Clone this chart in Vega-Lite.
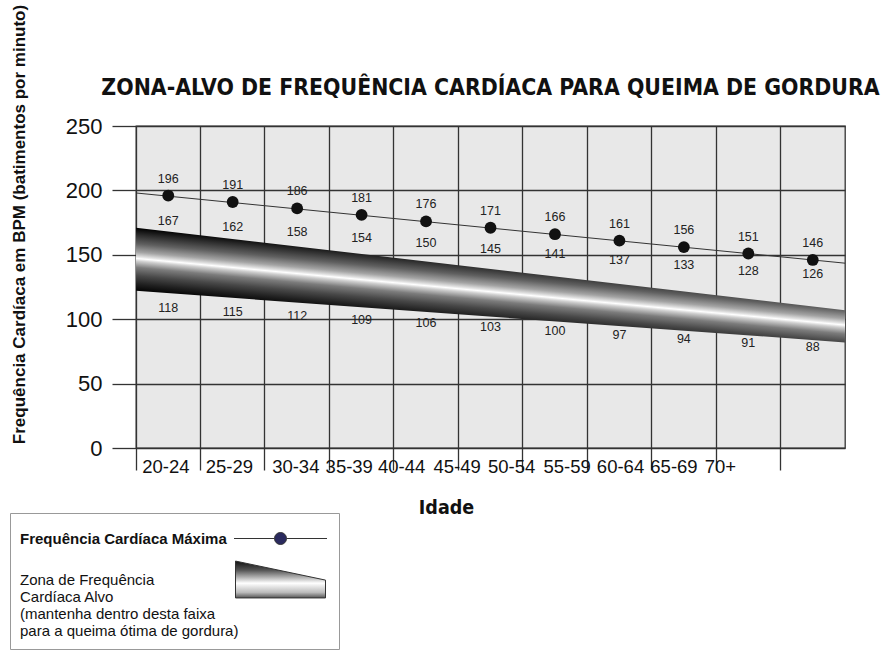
{
  "$schema": "https://vega.github.io/schema/vega-lite/v6.json",
  "width": 709,
  "height": 322,
  "autosize": "none",
  "padding": {"left": 136, "top": 126, "right": 39, "bottom": 205},
  "background": "white",
  "title": {
    "text": "ZONA-ALVO DE FREQUÊNCIA CARDÍACA PARA QUEIMA DE GORDURA",
    "font": "DejaVu Sans Condensed, Liberation Sans",
    "fontSize": 22.8,
    "fontWeight": "bold",
    "color": "#111111",
    "offset": 0,
    "dy": 95,
    "anchor": "middle",
    "frame": "group"
  },
  "config": {
    "font": "Liberation Sans",
    "view": {"fill": "#e8e8e8", "stroke": "#333333", "strokeWidth": 1.3}
  },
  "datasets": {
    "idades": [
      {"idade": "20-24", "max": 196, "sup": 167, "inf": 118},
      {"idade": "25-29", "max": 191, "sup": 162, "inf": 115},
      {"idade": "30-34", "max": 186, "sup": 158, "inf": 112},
      {"idade": "35-39", "max": 181, "sup": 154, "inf": 109},
      {"idade": "40-44", "max": 176, "sup": 150, "inf": 106},
      {"idade": "45-49", "max": 171, "sup": 145, "inf": 103},
      {"idade": "50-54", "max": 166, "sup": 141, "inf": 100},
      {"idade": "55-59", "max": 161, "sup": 137, "inf": 97},
      {"idade": "60-64", "max": 156, "sup": 133, "inf": 94},
      {"idade": "65-69", "max": 151, "sup": 128, "inf": 91},
      {"idade": "70+", "max": 146, "sup": 126, "inf": 88}
    ],
    "faixa": [
      {"pos": 0, "topo": 171, "base": 122},
      {"pos": 11, "topo": 107, "base": 82}
    ],
    "linha": [
      {"pos": 0, "fc": 198},
      {"pos": 11, "fc": 143.5}
    ]
  },
  "layer": [
    {
      "layer": [
        {
          "data": {"name": "faixa"},
          "mark": {
            "type": "area",
            "color": {
              "gradient": "linear",
              "x1": 0, "y1": 0, "x2": -0.242, "y2": 0.416,
              "stops": [
                {"offset": 0, "color": "#000000"},
                {"offset": 0.1, "color": "#282828"},
                {"offset": 0.25, "color": "#606060"},
                {"offset": 0.38, "color": "#a4a4a4"},
                {"offset": 0.45, "color": "#e0e0e0"},
                {"offset": 0.48, "color": "#ffffff"},
                {"offset": 0.52, "color": "#d0d0d0"},
                {"offset": 0.62, "color": "#7c7c7c"},
                {"offset": 0.75, "color": "#484848"},
                {"offset": 0.88, "color": "#202020"},
                {"offset": 1, "color": "#000000"}
              ]
            }
          },
          "encoding": {
            "x": {"field": "pos", "type": "quantitative", "scale": {"domain": [0, 11], "nice": false, "zero": false}, "axis": null},
            "y": {
              "field": "topo", "type": "quantitative",
              "scale": {"domain": [0, 250], "nice": false},
              "axis": {
                "values": [0, 50, 100, 150, 200, 250],
                "title": "Frequência Cardíaca em BPM (batimentos por minuto)",
                "titleFontSize": 17,
                "titleFontWeight": "bold",
                "titleColor": "#111111",
                "titleAngle": -90,
                "titleX": -117,
                "titleY": 98,
                "titleAlign": "center",
                "titleBaseline": "middle",
                "titleLimit": 600,
                "labelFontSize": 22,
                "labelColor": "#111111",
                "labelPadding": 10,
                "tickSize": 24,
                "tickColor": "#333333",
                "tickWidth": 1.3,
                "grid": true,
                "gridColor": "#333333",
                "gridWidth": 1.3,
                "gridOpacity": 1,
                "domain": false
              }
            },
            "y2": {"field": "base"}
          }
        },
        {
          "data": {"name": "linha"},
          "mark": {"type": "line", "strokeWidth": 1},
          "encoding": {
            "x": {"field": "pos", "type": "quantitative", "scale": {"domain": [0, 11], "nice": false, "zero": false}, "axis": null},
            "y": {"field": "fc", "type": "quantitative"},
            "stroke": {
              "datum": "Frequência Cardíaca Máxima",
              "scale": {
                "domain": ["Frequência Cardíaca Máxima", "Zona de Frequência|Cardíaca Alvo|(mantenha dentro desta faixa|para a queima ótima de gordura)"],
                "range": ["#333333", "#333333"]
              },
              "legend": {
                "orient": "none",
                "legendX": -126,
                "legendY": 387,
                "title": null,
                "direction": "vertical",
                "padding": 10,
                "strokeColor": "#999999",
                "fillColor": "#ffffff",
                "labelExpr": "split(datum.label, '|')",
                "labelLimit": 400,
                "labelFontSize": 15,
                "labelFontWeight": {"expr": "indexof(datum.value, '|') < 0 ? 'bold' : 'normal'"},
                "labelColor": "#111111",
                "labelOffset": -276,
                "symbolOffset": 245,
                "symbolSize": 900,
                "symbolType": {"expr": "indexof(datum.value, '|') < 0 ? 'M-3.1,0H-0.4M0.4,0H3.1M-0.4,0A0.4,0.4 0 1,1 0.4,0A0.4,0.4 0 1,1 -0.4,0Z' : 'M-3,-1.23L3,0.04L3,1.23L-3,1.23Z'"},
                "symbolFillColor": {"expr": "indexof(datum.value, '|') < 0 ? '#2a2a5e' : {gradient: 'linear', x1: 0, y1: 0, x2: 0, y2: 1, stops: [{offset: 0, color: '#111111'}, {offset: 0.25, color: '#555555'}, {offset: 0.6, color: '#ffffff'}, {offset: 0.85, color: '#bbbbbb'}, {offset: 1, color: '#555555'}]}"},
                "symbolStrokeWidth": 1,
                "rowPadding": 12
              }
            }
          }
        }
      ]
    },
    {
      "data": {"name": "idades"},
      "encoding": {
        "x": {
          "field": "idade", "type": "nominal", "sort": null,
          "scale": {"type": "band", "paddingInner": 0, "paddingOuter": 0},
          "axis": {
            "orient": "bottom",
            "bandPosition": 0,
            "title": "Idade",
            "titleFont": "DejaVu Sans Condensed, Liberation Sans",
            "titleFontSize": 19.5,
            "titleFontWeight": "bold",
            "titleColor": "#111111",
            "titleX": 310,
            "titleY": 59,
            "titleAlign": "center",
            "titleBaseline": "middle",
            "labelAngle": 0,
            "labelAlign": "left",
            "labelBaseline": "middle",
            "labelFontSize": 18.5,
            "labelColor": "#111111",
            "labelOffset": {"expr": "[-26, -27, -25, -36, -48, -57, -67, -76, -87, -98, -108][indexof(['20-24', '25-29', '30-34', '35-39', '40-44', '45-49', '50-54', '55-59', '60-64', '65-69', '70+'], datum.value)]"},
            "labelPadding": -4,
            "labelOverlap": false,
            "labelFlush": false,
            "tickSize": 22,
            "tickColor": "#333333",
            "tickWidth": 1.3,
            "grid": true,
            "gridColor": "#333333",
            "gridWidth": 1.3,
            "gridOpacity": 1,
            "domain": false
          }
        }
      },
      "layer": [
        {
          "mark": {"type": "point", "filled": true, "size": 140, "opacity": 1, "color": "#111111"},
          "encoding": {
            "y": {"field": "max", "type": "quantitative"}
          }
        },
        {
          "mark": {"type": "text", "fontSize": 12.5, "color": "#222222", "dy": -17},
          "encoding": {"y": {"field": "max", "type": "quantitative"}, "text": {"field": "max"}}
        },
        {
          "mark": {"type": "text", "fontSize": 12.5, "color": "#222222", "dy": -12},
          "encoding": {"y": {"field": "sup", "type": "quantitative"}, "text": {"field": "sup"}}
        },
        {
          "mark": {"type": "text", "fontSize": 12.5, "color": "#222222", "dy": 12},
          "encoding": {"y": {"field": "inf", "type": "quantitative"}, "text": {"field": "inf"}}
        }
      ]
    }
  ],
  "resolve": {"scale": {"x": "independent"}, "axis": {"x": "independent"}}
}
